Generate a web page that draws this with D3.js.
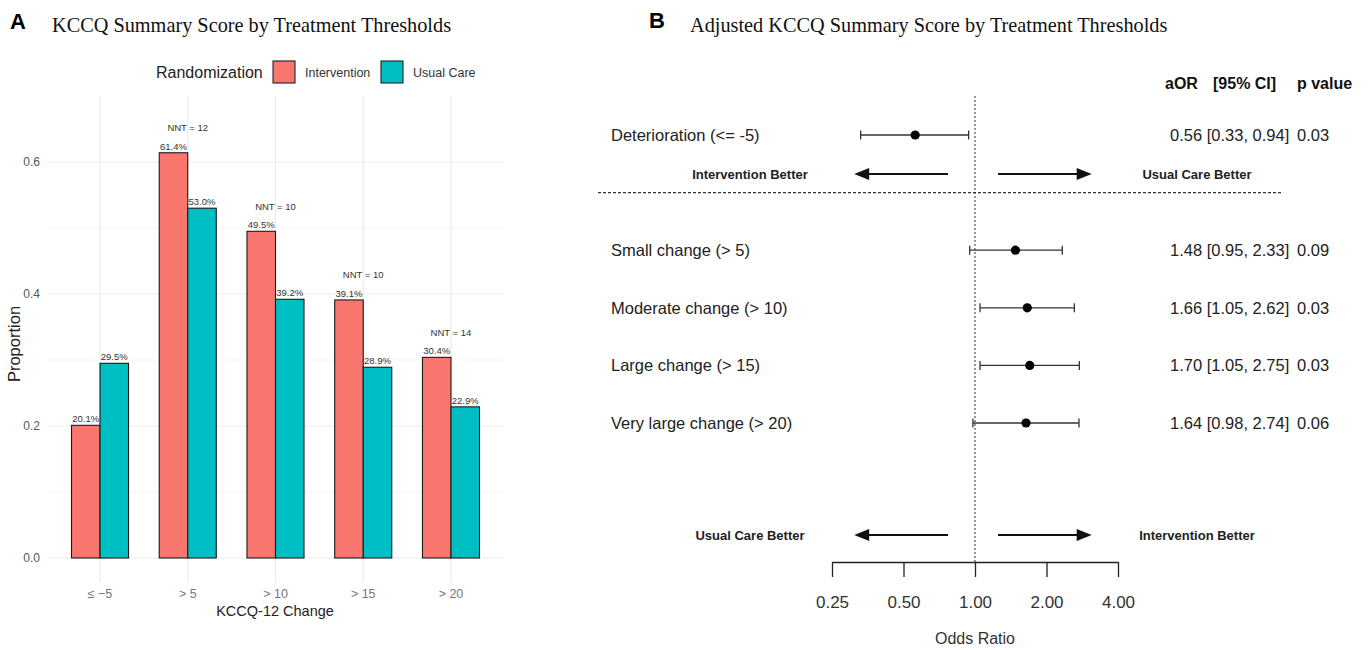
<!DOCTYPE html>
<html>
<head>
<meta charset="utf-8">
<script src="https://cdn.jsdelivr.net/npm/d3@7"></script>
<style>
  body { margin: 0; background: #fff; }
  svg { display: block; }
</style>
</head>
<body>
<svg width="1369" height="650"></svg>
<script>
// panel A data
const categories = ["≤ −5", "> 5", "> 10", "> 15", "> 20"];
const intervention = [0.201, 0.614, 0.495, 0.391, 0.304];
const usualCare = [0.295, 0.530, 0.392, 0.289, 0.229];
const nnt = [null, 12, 10, 10, 14];
const groups = ["Intervention", "Usual Care"];
const yTicks = [0, 0.2, 0.4, 0.6];

// panel B data
const outcomes = ["Deterioration (<= -5)", "Small change (> 5)", "Moderate change (> 10)", "Large change (> 15)", "Very large change (> 20)"];
const rowIndex = [0, 2, 3, 4, 5];
const aor = [0.56, 1.48, 1.66, 1.70, 1.64];
const lower = [0.33, 0.95, 1.05, 1.05, 0.98];
const upper = [0.94, 2.33, 2.62, 2.75, 2.74];
const pvals = ["0.03", "0.09", "0.03", "0.03", "0.06"];
const orTicks = [0.25, 0.5, 1, 2, 4];

const svg = d3.select("svg");
const sans = "'Liberation Sans', Arial, sans-serif";
const serif = "'Liberation Serif', 'Times New Roman', serif";
const colors = d3.scaleOrdinal().domain(groups).range(["#F8766D", "#00BFC4"]);

// ---------- Panel A ----------
svg.append("text").attr("x", 10).attr("y", 29)
  .style("font", `bold 22px ${sans}`).text("A");
svg.append("text").attr("x", 52).attr("y", 32)
  .style("font", `20.3px ${serif}`).attr("fill", "#111")
  .text("KCCQ Summary Score by Treatment Thresholds");

// legend
const leg = svg.append("g");
leg.append("text").attr("x", 156).attr("y", 78)
  .style("font", `16px ${sans}`).attr("fill", "#222").text("Randomization");
[[273, 305], [381, 413]].forEach(([bx, tx], i) => {
  leg.append("rect").attr("x", bx).attr("y", 61).attr("width", 22).attr("height", 22)
    .attr("fill", colors(groups[i])).attr("stroke", "#222").attr("stroke-width", 1.1);
  leg.append("text").attr("x", tx).attr("y", 77)
    .style("font", `12.5px ${sans}`).attr("fill", "#333").text(groups[i]);
});

const panelTop = 96, panelBottom = 582;
const x = d3.scaleBand().domain(categories).range([100 - 87.7 * 0.5, 451 + 87.7 * 0.5]);
const stepA = x.step();
const xc = d => x(d) + stepA / 2;
const xSub = d3.scaleBand().domain(groups).range([-stepA * 0.325, stepA * 0.325]);
const y = d3.scaleLinear().domain([0, 0.6]).range([558, 162]);

const gridA = svg.append("g");
// minor gridlines
[0.1, 0.3, 0.5].forEach(v => {
  gridA.append("line").attr("x1", 47).attr("x2", 503).attr("y1", y(v)).attr("y2", y(v))
    .attr("stroke", "#f4f4f4").attr("stroke-width", 1);
});
yTicks.forEach(v => {
  gridA.append("line").attr("x1", 47).attr("x2", 503).attr("y1", y(v)).attr("y2", y(v))
    .attr("stroke", "#ebebeb").attr("stroke-width", 1.2);
});
categories.forEach(c => {
  gridA.append("line").attr("x1", xc(c)).attr("x2", xc(c)).attr("y1", panelTop).attr("y2", panelBottom)
    .attr("stroke", "#ebebeb").attr("stroke-width", 1.2);
});

// y axis labels
svg.append("g").attr("transform", "translate(44,0)")
  .call(d3.axisLeft(y).tickValues(yTicks).tickFormat(d3.format(".1f")).tickSize(0).tickPadding(4))
  .call(g => g.select(".domain").remove())
  .call(g => g.selectAll("text").style("font", `12px ${sans}`).attr("fill", "#555"));

// x axis labels
svg.append("g").attr("transform", `translate(0,${panelBottom})`)
  .call(d3.axisBottom(x).tickSize(0).tickPadding(7))
  .call(g => g.select(".domain").remove())
  .call(g => g.selectAll("text").style("font", `12.5px ${sans}`).attr("fill", "#777"));

svg.append("text").attr("x", 275).attr("y", 616).attr("text-anchor", "middle")
  .style("font", `14.5px ${sans}`).attr("fill", "#222").text("KCCQ-12 Change");
svg.append("text").attr("transform", "translate(20,344) rotate(-90)").attr("text-anchor", "middle")
  .style("font", `16.5px ${sans}`).attr("fill", "#222").text("Proportion");

// bars
const barData = categories.flatMap((c, i) => [
  { cat: c, group: groups[0], value: intervention[i] },
  { cat: c, group: groups[1], value: usualCare[i] }
]);
const bars = svg.append("g").selectAll("g").data(barData).join("g");
bars.append("rect")
  .attr("x", d => xc(d.cat) + xSub(d.group))
  .attr("y", d => y(d.value))
  .attr("width", xSub.bandwidth())
  .attr("height", d => y(0) - y(d.value))
  .attr("fill", d => colors(d.group))
  .attr("stroke", "#1a1a1a").attr("stroke-width", 1.1);
bars.append("text")
  .attr("x", d => xc(d.cat) + xSub(d.group) + xSub.bandwidth() / 2)
  .attr("y", d => y(d.value) - 3)
  .attr("text-anchor", "middle")
  .style("font", `9.5px ${sans}`).attr("fill", "#333")
  .text(d => d3.format(".1%")(d.value));

svg.append("g").selectAll("text").data(categories.filter((c, i) => nnt[i] != null)).join("text")
  .attr("x", d => xc(d))
  .attr("y", d => {
    const i = categories.indexOf(d);
    return y(Math.max(intervention[i], usualCare[i]) + 0.033);
  })
  .attr("text-anchor", "middle")
  .style("font", `9.5px ${sans}`).attr("fill", "#333")
  .text(d => `NNT = ${nnt[categories.indexOf(d)]}`);

// ---------- Panel B ----------
svg.append("text").attr("x", 649).attr("y", 28)
  .style("font", `bold 22px ${sans}`).text("B");
svg.append("text").attr("x", 690).attr("y", 32)
  .style("font", `20.3px ${serif}`).attr("fill", "#111")
  .text("Adjusted KCCQ Summary Score by Treatment Thresholds");

const xo = d3.scaleLog().base(2).domain([0.25, 4]).range([832, 1118]);
const row = d3.scaleLinear().domain([0, 5]).range([135, 423]);

// header
const hdr = svg.append("g").style("font", `bold 16px ${sans}`).attr("fill", "#111");
hdr.append("text").attr("x", 1165).attr("y", 89).text("aOR");
hdr.append("text").attr("x", 1213).attr("y", 89).text("[95% CI]");
hdr.append("text").attr("x", 1297).attr("y", 89).text("p value");

// reference line and separator
svg.append("line").attr("x1", xo(1)).attr("x2", xo(1)).attr("y1", 96).attr("y2", 562)
  .attr("stroke", "#333").attr("stroke-width", 1).attr("stroke-dasharray", "2,2");
svg.append("line").attr("x1", 598).attr("x2", 1281).attr("y1", row(1)).attr("y2", row(1))
  .attr("stroke", "#333").attr("stroke-width", 1.2).attr("stroke-dasharray", "3,2");

// rows
const rows = svg.append("g").selectAll("g").data(outcomes).join("g")
  .attr("transform", (d, i) => `translate(0,${row(rowIndex[i])})`);
rows.append("text").attr("x", 611).attr("y", 6)
  .style("font", `16.5px ${sans}`).attr("fill", "#222").text(d => d);
rows.append("line")
  .attr("x1", (d, i) => xo(lower[i])).attr("x2", (d, i) => xo(upper[i]))
  .attr("stroke", "#333").attr("stroke-width", 1.3);
rows.selectAll(".cap").data((d, i) => [lower[i], upper[i]]).join("line")
  .attr("class", "cap")
  .attr("x1", v => xo(v)).attr("x2", v => xo(v)).attr("y1", -4.5).attr("y2", 4.5)
  .attr("stroke", "#333").attr("stroke-width", 1.3);
rows.append("circle").attr("cx", (d, i) => xo(aor[i])).attr("r", 4.6).attr("fill", "#000");
rows.append("text").attr("x", 1170).attr("y", 6)
  .style("font", `16.5px ${sans}`).attr("fill", "#222")
  .text((d, i) => `${aor[i].toFixed(2)} [${lower[i].toFixed(2)}, ${upper[i].toFixed(2)}]`);
rows.append("text").attr("x", 1297).attr("y", 6)
  .style("font", `16.5px ${sans}`).attr("fill", "#222")
  .text((d, i) => pvals[i]);

// direction arrows
const arrowSets = [
  { y: 174, left: "Intervention Better", right: "Usual Care Better" },
  { y: 535, left: "Usual Care Better", right: "Intervention Better" }
];
const arrowSpans = [[0.77, 0.31], [1.25, 3.1]];
arrowSets.forEach(a => {
  const g = svg.append("g");
  arrowSpans.forEach(([from, to]) => {
    const x1 = xo(from), x2 = xo(to);
    const dir = Math.sign(x2 - x1);
    g.append("line").attr("x1", x1).attr("x2", x2 - dir * 12).attr("y1", a.y).attr("y2", a.y)
      .attr("stroke", "#111").attr("stroke-width", 2.2);
    g.append("path")
      .attr("d", `M${x2},${a.y} L${x2 - dir * 15},${a.y - 6} L${x2 - dir * 15},${a.y + 6} Z`)
      .attr("fill", "#111");
  });
  g.append("text").attr("x", 750).attr("y", a.y + 5).attr("text-anchor", "middle")
    .style("font", `bold 13px ${sans}`).attr("fill", "#222").text(a.left);
  g.append("text").attr("x", 1197).attr("y", a.y + 5).attr("text-anchor", "middle")
    .style("font", `bold 13px ${sans}`).attr("fill", "#222").text(a.right);
});

// OR axis
svg.append("g").attr("transform", "translate(0,562)")
  .call(d3.axisBottom(xo).tickValues(orTicks).tickFormat(d3.format(".2f")).tickSize(15).tickSizeOuter(0).tickPadding(19))
  .call(g => g.select(".domain").attr("stroke", "#222").attr("stroke-width", 1.3))
  .call(g => g.selectAll(".tick line").attr("stroke", "#222").attr("stroke-width", 1.3))
  .call(g => g.selectAll("text").style("font", `17px ${sans}`).attr("fill", "#333"));
svg.append("text").attr("x", xo(1)).attr("y", 644).attr("text-anchor", "middle")
  .style("font", `16px ${sans}`).attr("fill", "#333").text("Odds Ratio");
</script>
</body>
</html>
